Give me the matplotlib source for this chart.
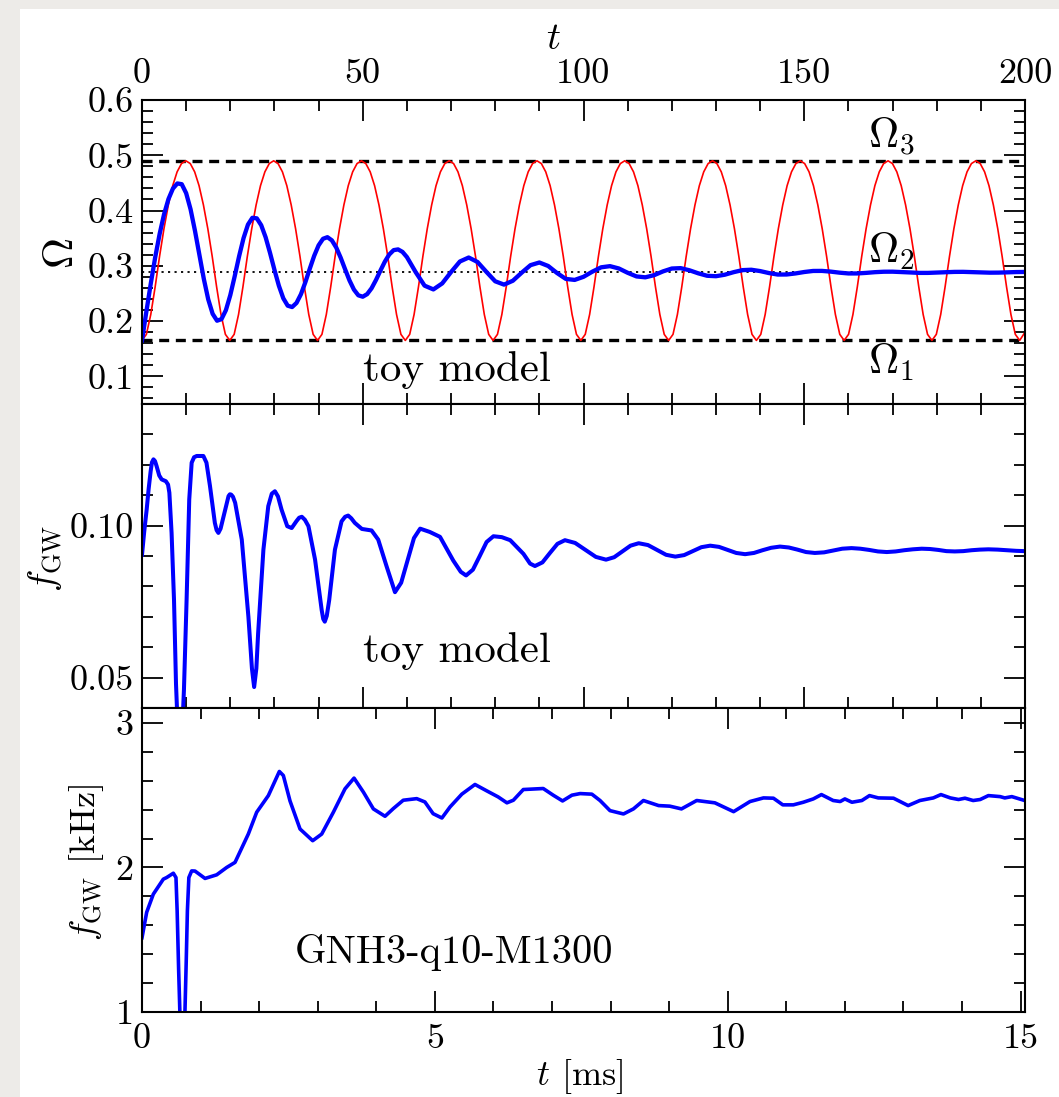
import numpy as np
import matplotlib.pyplot as plt
from matplotlib.ticker import MultipleLocator, FormatStrFormatter
from matplotlib.patches import Rectangle

plt.rcParams['font.family'] = 'cmr10'
plt.rcParams['mathtext.fontset'] = 'cm'
plt.rcParams['axes.formatter.use_mathtext'] = True
plt.rcParams['axes.unicode_minus'] = False

# --- toy model: orbital frequency ---
# levels Omega_1, Omega_2, Omega_3
omega_levels = [0.165, 0.288, 0.49]

# undamped toy orbit (red), one row per period
t_toy = np.append(np.linspace(0, 198.8, 201), 200.0)
omega_toy = [
    0.165, 0.176, 0.212, 0.262, 0.317, 0.367, 0.410, 0.445, 0.470, 0.485, 0.490, 0.485, 0.470, 0.445, 0.410, 0.367, 0.317, 0.262, 0.212, 0.176,
    0.165, 0.176, 0.212, 0.262, 0.317, 0.367, 0.410, 0.445, 0.470, 0.485, 0.490, 0.485, 0.470, 0.445, 0.410, 0.367, 0.317, 0.262, 0.212, 0.176,
    0.165, 0.176, 0.212, 0.262, 0.317, 0.367, 0.410, 0.445, 0.470, 0.485, 0.490, 0.485, 0.470, 0.445, 0.410, 0.367, 0.317, 0.262, 0.212, 0.176,
    0.165, 0.176, 0.212, 0.262, 0.317, 0.367, 0.410, 0.445, 0.470, 0.485, 0.490, 0.485, 0.470, 0.445, 0.410, 0.367, 0.317, 0.262, 0.212, 0.176,
    0.165, 0.176, 0.212, 0.262, 0.317, 0.367, 0.410, 0.445, 0.470, 0.485, 0.490, 0.485, 0.470, 0.445, 0.410, 0.367, 0.317, 0.262, 0.212, 0.176,
    0.165, 0.176, 0.212, 0.262, 0.317, 0.367, 0.410, 0.445, 0.470, 0.485, 0.490, 0.485, 0.470, 0.445, 0.410, 0.367, 0.317, 0.262, 0.212, 0.176,
    0.165, 0.176, 0.212, 0.262, 0.317, 0.367, 0.410, 0.445, 0.470, 0.485, 0.490, 0.485, 0.470, 0.445, 0.410, 0.367, 0.317, 0.262, 0.212, 0.176,
    0.165, 0.176, 0.212, 0.262, 0.317, 0.367, 0.410, 0.445, 0.470, 0.485, 0.490, 0.485, 0.470, 0.445, 0.410, 0.367, 0.317, 0.262, 0.212, 0.176,
    0.165, 0.176, 0.212, 0.262, 0.317, 0.367, 0.410, 0.445, 0.470, 0.485, 0.490, 0.485, 0.470, 0.445, 0.410, 0.367, 0.317, 0.262, 0.212, 0.176,
    0.165, 0.176, 0.212, 0.262, 0.317, 0.367, 0.410, 0.445, 0.470, 0.485, 0.490, 0.485, 0.470, 0.445, 0.410, 0.367, 0.317, 0.262, 0.212, 0.176,
    0.165, 0.180,
]

# damped orbit (blue)
t_orbit = np.concatenate([np.arange(0, 61), np.arange(62, 201, 2)])
omega_orbit = [
    0.1650, 0.2177, 0.2685, 0.3158, 0.3579, 0.3934, 0.4209, 0.4397, 0.4490, 0.4477,
    0.4315, 0.4023, 0.3633, 0.3195, 0.2764, 0.2393, 0.2131, 0.2007, 0.2035, 0.2197,
    0.2470, 0.2813, 0.3175, 0.3501, 0.3746, 0.3869, 0.3859, 0.3735, 0.3517, 0.3233,
    0.2927, 0.2640, 0.2413, 0.2279, 0.2254, 0.2329, 0.2486, 0.2703, 0.2947, 0.3181,
    0.3371, 0.3489, 0.3518, 0.3461, 0.3330, 0.3147, 0.2938, 0.2735, 0.2570, 0.2466,
    0.2441, 0.2488, 0.2594, 0.2744, 0.2913, 0.3075, 0.3205, 0.3284, 0.3297, 0.3252,
    0.3158,
    0.2884, 0.2641, 0.2573, 0.2682, 0.2887, 0.3078, 0.3150, 0.3069, 0.2891, 0.2720,
    0.2660, 0.2730, 0.2876, 0.3012, 0.3060, 0.2997, 0.2870, 0.2763, 0.2745, 0.2801,
    0.2894, 0.2973, 0.2994, 0.2952, 0.2874, 0.2808, 0.2792, 0.2831, 0.2899, 0.2951,
    0.2958, 0.2919, 0.2864, 0.2820, 0.2812, 0.2839, 0.2885, 0.2922, 0.2929, 0.2905,
    0.2869, 0.2842, 0.2843, 0.2862, 0.2888, 0.2907, 0.2908, 0.2895, 0.2876, 0.2862,
    0.2862, 0.2872, 0.2885, 0.2893, 0.2894, 0.2888, 0.2880, 0.2872, 0.2872, 0.2878,
    0.2885, 0.2890, 0.2891, 0.2886, 0.2880, 0.2876, 0.2877, 0.2882, 0.2887, 0.2889,
]

# --- toy model: GW frequency ---
t_fgw = [
    0, 0.5, 1.06, 1.5, 1.96, 2.25, 2.6, 2.95, 3.3, 3.9, 4.45, 5.4,
    5.9, 6.2, 6.7, 7.25, 7.7, 8.6, 9.5, 10.1, 10.7, 11.25,
    11.8, 12.4, 13.9, 14.6, 15.4, 16.5, 16.9, 17.3, 17.8, 18.3, 19.6, 19.9, 20.2, 20.6,
    21.1, 22.6, 24.1, 24.9, 25.4, 25.9, 26.3, 27.5, 28.6, 29.4, 30.1, 30.8,
    31.6, 32.9, 33.9, 35.0, 35.6, 36.2, 36.9, 37.7, 39.2, 40.7, 41.05, 41.4, 41.85,
    42.4, 43.7, 45.2, 46.0, 46.7, 47.4, 48.2, 49.8, 52.0, 53.5, 55.4, 57.3,
    58.7, 60.15, 61.6, 63.0, 65.2, 67.5, 70.5, 72.2, 73.4, 74.95,
    76.5, 78.05, 79.6, 81.5, 83.4, 86.4, 87.9, 89.0, 90.7, 92.4,
    94.1, 95.8, 98.1, 100.45, 102.8, 105.1, 106.95, 108.8, 110.65, 112.5,
    114.6, 116.65, 118.7, 120.8, 122.8, 124.75, 126.7, 128.7, 130.7, 132.65,
    134.6, 136.6, 138.6, 140.55, 142.5, 144.5, 146.5, 148.45, 150.4, 152.4,
    154.5, 156.55, 158.6, 160.7, 162.7, 164.7, 166.7, 168.7, 170.7, 172.65,
    174.6, 176.6, 178.5, 180.35, 182.2, 184.1, 186.0, 187.9, 189.8, 191.7,
    193.8, 195.9, 198.0, 200.0,
]
fgw_toy = [
    0.0904, 0.0980, 0.1053, 0.1120, 0.1179, 0.1208, 0.1218, 0.1212, 0.1196, 0.1165, 0.1152, 0.1146,
    0.1135, 0.1108, 0.0976, 0.0755, 0.0480, 0.0150, 0.0460, 0.0755, 0.1086, 0.1207,
    0.1225, 0.1229, 0.1229, 0.1207, 0.1130, 0.1009, 0.0985, 0.0976, 0.0990, 0.1020, 0.1097, 0.1103, 0.1102, 0.1095,
    0.1075, 0.0954, 0.0700, 0.0530, 0.0469, 0.0530, 0.0645, 0.0921, 0.1064, 0.1105, 0.1113, 0.1096,
    0.1053, 0.0998, 0.0992, 0.1015, 0.1026, 0.1029, 0.1019, 0.0998, 0.0888, 0.0722, 0.0693, 0.0684, 0.0703,
    0.0755, 0.0921, 0.1014, 0.1029, 0.1033, 0.1024, 0.1009, 0.0989, 0.0984, 0.0954, 0.0866, 0.0781,
    0.0812, 0.0886, 0.0959, 0.0990, 0.0979, 0.0963, 0.0885, 0.0848, 0.0836, 0.0855,
    0.0900, 0.0946, 0.0965, 0.0962, 0.0952, 0.0907, 0.0875, 0.0867, 0.0879, 0.0910,
    0.0940, 0.0952, 0.0943, 0.0920, 0.0897, 0.0888, 0.0896, 0.0915, 0.0934, 0.0942,
    0.0936, 0.0920, 0.0904, 0.0898, 0.0903, 0.0916, 0.0929, 0.0934, 0.0930, 0.0920,
    0.0910, 0.0906, 0.0910, 0.0919, 0.0927, 0.0931, 0.0928, 0.0921, 0.0913, 0.0910,
    0.0912, 0.0918, 0.0924, 0.0926, 0.0924, 0.0920, 0.0915, 0.0913, 0.0915, 0.0919,
    0.0922, 0.0924, 0.0923, 0.0920, 0.0916, 0.0915, 0.0916, 0.0919, 0.0921, 0.0922,
    0.0921, 0.0919, 0.0917, 0.0916,
]

# --- simulation GNH3-q10-M1300 ---
t_ms = [
    0, 0.08, 0.193, 0.364, 0.42, 0.535, 0.58, 0.60, 0.625, 0.65,
    0.69, 0.73, 0.755, 0.775, 0.80, 0.848, 0.905, 1.076, 1.275, 1.446,
    1.588, 1.815, 1.958, 2.157, 2.345, 2.413, 2.527, 2.698, 2.914, 3.068,
    3.267, 3.466, 3.62, 3.78, 3.95, 4.149, 4.29, 4.46, 4.69, 4.83,
    4.97, 5.12, 5.26, 5.46, 5.685, 5.885, 6.08, 6.23, 6.34, 6.51,
    6.85, 7.02, 7.18, 7.34, 7.48, 7.68, 7.82, 7.99, 8.22, 8.39,
    8.56, 8.82, 9.01, 9.21, 9.47, 9.78, 10.1, 10.38, 10.61, 10.78,
    10.94, 11.12, 11.29, 11.46, 11.6, 11.8, 11.92, 12.0, 12.12, 12.29,
    12.42, 12.57, 12.83, 13.08, 13.28, 13.51, 13.64, 13.8, 13.94, 14.05,
    14.19, 14.31, 14.45, 14.65, 14.73, 14.85, 15.07,
]
fgw_khz = [
    1.514, 1.690, 1.815, 1.919, 1.930, 1.960, 1.930, 1.700, 1.300, 0.950,
    0.750, 0.950, 1.350, 1.700, 1.930, 1.976, 1.975, 1.924, 1.949, 2.000,
    2.035, 2.231, 2.382, 2.497, 2.664, 2.636, 2.460, 2.266, 2.185, 2.231,
    2.382, 2.544, 2.618, 2.521, 2.405, 2.354, 2.407, 2.465, 2.476, 2.453,
    2.372, 2.342, 2.419, 2.507, 2.574, 2.530, 2.488, 2.447, 2.465, 2.539,
    2.546, 2.500, 2.460, 2.500, 2.511, 2.507, 2.463, 2.393, 2.370, 2.405,
    2.463, 2.428, 2.424, 2.405, 2.463, 2.447, 2.386, 2.456, 2.481, 2.479,
    2.433, 2.433, 2.451, 2.474, 2.504, 2.463, 2.456, 2.474, 2.451, 2.463,
    2.497, 2.481, 2.479, 2.428, 2.463, 2.481, 2.504, 2.481, 2.470, 2.479,
    2.463, 2.470, 2.497, 2.490, 2.481, 2.490, 2.463,
]

W, H = 1059, 1097
fig = plt.figure(figsize=(W / 100, H / 100), dpi=100, facecolor='#edebe8')
fig.patches.append(Rectangle((20 / W, 0), 1 - 20 / W, 1 - 9 / H, transform=fig.transFigure,
                             facecolor='white', edgecolor='none', zorder=-10))


def ftext(x, y, s, **kw):
    fig.text(x / W, 1 - y / H, s, ha='center', va='center', **kw)


left, width, hp = 142 / W, 883 / W, 304 / H
ax1 = fig.add_axes([left, 1 - 404 / H, width, hp])
ax2 = fig.add_axes([left, 1 - 708 / H, width, hp])
ax3 = fig.add_axes([left, 1 - 1012 / H, width, hp])

for ax in (ax1, ax2, ax3):
    ax.tick_params(which='both', direction='in', top=True, bottom=True, left=True, right=True,
                   width=1.3, labelsize=26, pad=6)
    ax.tick_params(which='major', length=15)
    ax.tick_params(which='minor', length=8)
    for s in ax.spines.values():
        s.set_linewidth(1.5)

# top panel
ax1.axhline(omega_levels[2], color='black', lw=2.4, dashes=(3, 2))
ax1.axhline(omega_levels[0], color='black', lw=2.4, dashes=(3, 2))
ax1.axhline(omega_levels[1], color='black', lw=1.3, dashes=(1.2, 2.4))
ax1.plot(t_toy, omega_toy, color='red', lw=1.2)
ax1.plot(t_orbit, omega_orbit, color='blue', lw=3.1)
ax1.set_xlim(0, 200)
ax1.set_ylim(0.05, 0.6)
ax1.xaxis.set_major_locator(MultipleLocator(50))
ax1.xaxis.set_minor_locator(MultipleLocator(10))
ax1.xaxis.set_major_formatter(FormatStrFormatter('%d'))
ax1.yaxis.set_major_locator(MultipleLocator(0.1))
ax1.yaxis.set_minor_locator(MultipleLocator(0.02))
ax1.yaxis.set_major_formatter(FormatStrFormatter('%.1f'))
ax1.tick_params(axis='x', labeltop=True, labelbottom=False, pad=7)
ax1.text(164.4, 0.5116, r'$\Omega_3$', fontsize=30)
ax1.text(164.4, 0.3044, r'$\Omega_2$', fontsize=30)
ax1.text(164.4, 0.1044, r'$\Omega_1$', fontsize=30)
ax1.text(50, 0.092, 'toy model', fontsize=31)

# middle panel
ax2.plot(t_fgw, fgw_toy, color='blue', lw=2.9)
ax2.set_xlim(0, 200)
ax2.set_ylim(0.04, 0.14)
ax2.xaxis.set_major_locator(MultipleLocator(50))
ax2.xaxis.set_minor_locator(MultipleLocator(10))
ax2.yaxis.set_major_locator(MultipleLocator(0.05))
ax2.yaxis.set_minor_locator(MultipleLocator(0.01))
ax2.yaxis.set_major_formatter(FormatStrFormatter('%.2f'))
ax2.tick_params(axis='x', labelbottom=False)
ax2.text(50, 0.0551, 'toy model', fontsize=31)

# bottom panel
ax3.plot(t_ms, fgw_khz, color='blue', lw=2.6)
ax3.set_xlim(0, 15.075)
ax3.set_ylim(1, 3.103)
ax3.xaxis.set_major_locator(MultipleLocator(5))
ax3.xaxis.set_minor_locator(MultipleLocator(1))
ax3.xaxis.set_major_formatter(FormatStrFormatter('%d'))
ax3.yaxis.set_major_locator(MultipleLocator(1))
ax3.yaxis.set_minor_locator(MultipleLocator(0.2))
ax3.yaxis.set_major_formatter(FormatStrFormatter('%d'))
ax3.tick_params(axis='x', pad=8)
ax3.text(2.61, 1.342, 'GNH3-q10-M1300', fontsize=29)

# axis labels
ftext(553, 39, r'$t$', fontsize=28)
ftext(62, 253, r'$\Omega$', fontsize=31, rotation=90)
ftext(45, 558, r'$f_{\rm GW}$', fontsize=27, rotation=90)
ftext(86, 862, r'$f_{\rm GW}$ [kHz]', fontsize=26, rotation=90)
ftext(580, 1076, r'$t$ [ms]', fontsize=26)

fig.savefig('out.png', dpi=100, facecolor=fig.get_facecolor())
